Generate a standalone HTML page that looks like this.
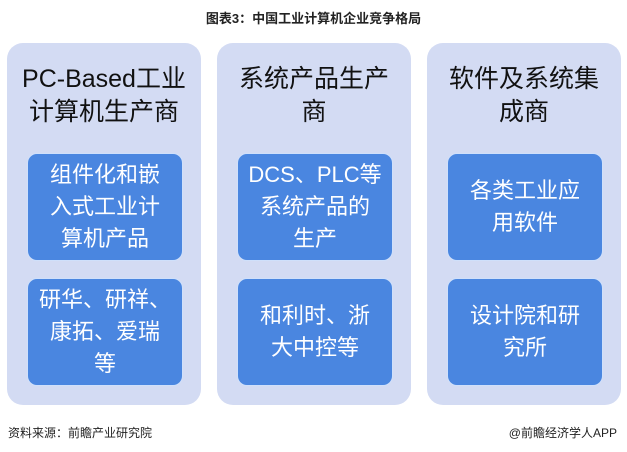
<!DOCTYPE html>
<html><head><meta charset="utf-8"><style>
body{margin:0;width:627px;height:452px;background:#fff;position:relative;overflow:hidden;font-family:"Liberation Sans","Noto Sans CJK SC",sans-serif}
.t{position:absolute;top:8px;left:0;width:627px;text-align:center;font-size:13px;font-weight:bold;color:#222}
.p{position:absolute;top:43px;width:194px;height:362px;background:#d3dbf3;border-radius:16px}
.h{position:absolute;top:20px;left:0;width:100%;text-align:center;font-size:25px;line-height:33px;color:#111}
.b{position:absolute;left:20px;width:156px;height:108px;background:#4a86e0;border-radius:10px;color:#fff;font-size:22px;line-height:32px;display:flex;align-items:center;justify-content:center;text-align:center;border:1px solid #cfe0fb;box-sizing:border-box}
.f{position:absolute;top:424px;font-size:12px;color:#222}
</style></head><body>
<div class="t">图表3：中国工业计算机企业竞争格局</div>
<div class="p" style="left:7px"><div class="h">PC-Based工业<br>计算机生产商</div>
<div class="b" style="top:110px">组件化和嵌<br>入式工业计<br>算机产品</div>
<div class="b" style="top:235px">研华、研祥、<br>康拓、爱瑞<br>等</div></div>
<div class="p" style="left:217px"><div class="h">系统产品生产<br>商</div>
<div class="b" style="top:110px">DCS、PLC等<br>系统产品的<br>生产</div>
<div class="b" style="top:235px">和利时、浙<br>大中控等</div></div>
<div class="p" style="left:427px"><div class="h">软件及系统集<br>成商</div>
<div class="b" style="top:110px">各类工业应<br>用软件</div>
<div class="b" style="top:235px">设计院和研<br>究所</div></div>
<div class="f" style="left:8px">资料来源：前瞻产业研究院</div>
<div class="f" style="right:10px">@前瞻经济学人APP</div>
</body></html>
